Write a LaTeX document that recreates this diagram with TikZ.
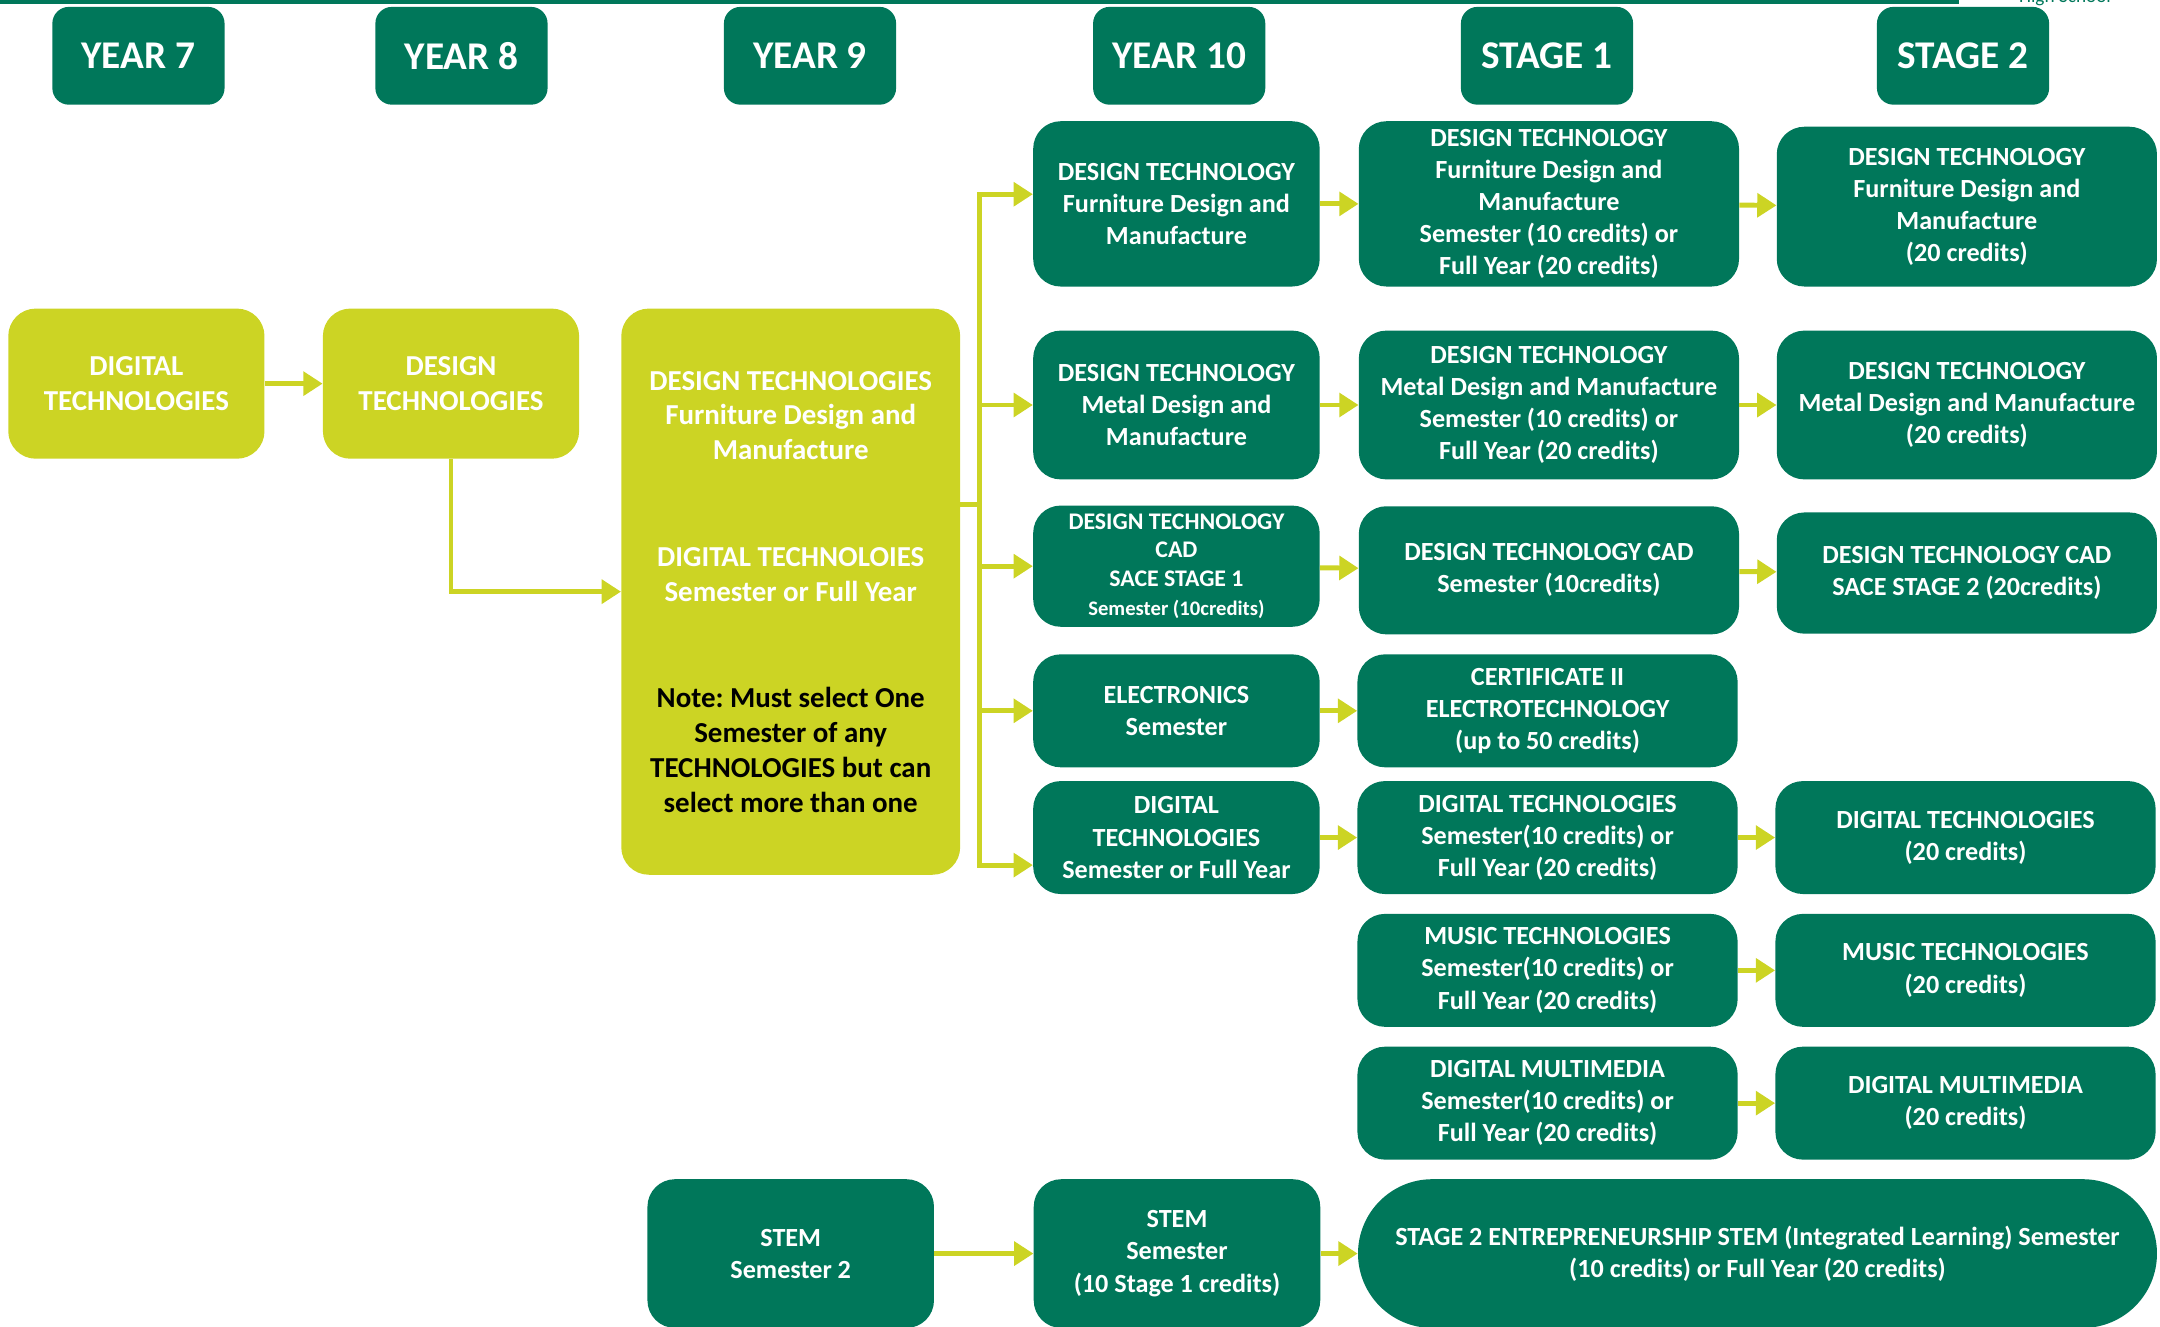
\documentclass[tikz,border=0pt]{standalone}
\usepackage{fontspec}
\setmainfont{Carlito}
\usetikzlibrary{positioning, arrows.meta}
\definecolor{dkgreen}{HTML}{00775A}
\definecolor{ltgreen}{HTML}{CCD424}
\frenchspacing

\begin{document}
\begin{tikzpicture} [x=1pt, y=-1pt,
            node distance = 28pt,
            head/.style = {fill=dkgreen, rounded corners=12pt, text=white,
                font=\bfseries\fontsize{28.5}{34}\selectfont,
                minimum width=125pt, minimum height=71pt, inner sep=0pt},
            course/.style = {fill=dkgreen, rounded corners=20pt, text=white,
                align=center, inner sep=0pt,
                font=\bfseries\fontsize{19}{23.3}\selectfont},
            wide/.style = {course, minimum width=276pt},
            narrow/.style = {course, minimum width=208pt},
            core/.style = {fill=ltgreen, rounded corners=20pt, text=white,
                align=center, inner sep=0pt,
                font=\bfseries\fontsize{21}{25.3}\selectfont},
            trunk/.style = {color=ltgreen, line width=3.6pt},
            link/.style = {trunk, -{Triangle[length=14pt, width=17pt]}}]

            \useasboundingbox (0,0) rectangle (1568,963);
            \clip (0,0) rectangle (1568,963);

            % Top rule
            \draw [dkgreen, line width=3pt] (0,1.5) -- (1422,1.5);
            \node (school) [anchor=base, text=dkgreen,
                font=\fontsize{14}{16}\selectfont] at (1499,2) {High School};

            % Column headers
            \node (y7h)  [head] at (100.5,40.5) {YEAR 7};
            \node (y8h)  [head] at (335,40.5)   {YEAR 8};
            \node (y9h)  [head] at (588,40.5)   {YEAR 9};
            \node (y10h) [head] at (856,40.5)   {YEAR 10};
            \node (s1h)  [head] at (1123,40.5)  {STAGE 1};
            \node (s2h)  [head] at (1425,40.5)  {STAGE 2};

            % Years 7 to 9
            \node (dt7) [core,
                minimum width=186pt, minimum height=109pt] at (99,278.5)
                {DIGITAL\\TECHNOLOGIES};
            \node (ds8) [core,
                minimum width=186pt, minimum height=109pt,
                right = 42pt of dt7] {DESIGN\\TECHNOLOGIES};
            \node (opt9) [core,
                minimum width=246pt, minimum height=411pt] at (574,429.5)
                {DESIGN TECHNOLOGIES\\Furniture Design and\\Manufacture\\[52pt]
                 DIGITAL TECHNOLOIES\\Semester or Full Year\\[52pt]
                 \textcolor{black}{Note: Must select One}\\
                 \textcolor{black}{Semester of any}\\
                 \textcolor{black}{TECHNOLOGIES but can}\\
                 \textcolor{black}{select more than one}};
            \node (stem9) [narrow, minimum height=108pt] at (574,910)
                {STEM\\Semester 2};

            % Year 10
            \node (y10fdm) [narrow, minimum height=120pt] at (854,148)
                {DESIGN TECHNOLOGY\\Furniture Design and\\Manufacture};
            \node (y10mdm) [narrow, minimum height=108pt] at (854,294)
                {DESIGN TECHNOLOGY\\Metal Design and\\Manufacture};
            \node (y10cad) [narrow, minimum height=88pt,
                font=\bfseries\fontsize{17.3}{21}\selectfont] at (854,411)
                {DESIGN TECHNOLOGY\\CAD\\SACE STAGE 1\\
                 \fontsize{15}{21}\selectfont Semester (10credits)};
            \node (y10elec) [narrow, minimum height=82pt] at (854,516)
                {ELECTRONICS\\Semester};
            \node (y10dt) [narrow, minimum height=82pt] at (854,608)
                {DIGITAL\\TECHNOLOGIES\\Semester or Full Year};
            \node (stem10) [narrow, minimum height=108pt,
                right = 72pt of stem9] {STEM\\Semester\\(10 Stage 1 credits)};

            % Stage 1
            \node (s1fdm) [wide, minimum height=120pt, right = of y10fdm]
                {DESIGN TECHNOLOGY\\Furniture Design and\\Manufacture\\
                 Semester (10 credits) or\\Full Year (20 credits)};
            \node (s1mdm) [wide, minimum height=108pt, right = of y10mdm]
                {DESIGN TECHNOLOGY\\Metal Design and Manufacture\\
                 Semester (10 credits) or\\Full Year (20 credits)};
            \node (s1cad) [wide, minimum height=93pt, right = of y10cad,
                yshift=-3pt]
                {DESIGN TECHNOLOGY CAD\\Semester (10credits)};
            \node (s1elec) [wide, minimum height=82pt, right = 27pt of y10elec]
                {CERTIFICATE II\\ELECTROTECHNOLOGY\\(up to 50 credits)};
            \node (s1dt) [wide, minimum height=82pt, right = 27pt of y10dt]
                {DIGITAL TECHNOLOGIES\\Semester(10 credits) or\\Full Year (20 credits)};
            \node (s1mt) [wide, minimum height=82pt, below = 14pt of s1dt]
                {MUSIC TECHNOLOGIES\\Semester(10 credits) or\\Full Year (20 credits)};
            \node (s1dm) [wide, minimum height=82pt, below = 14pt of s1mt]
                {DIGITAL MULTIMEDIA\\Semester(10 credits) or\\Full Year (20 credits)};
            \node (ent) [course, minimum width=580pt, minimum height=108pt,
                rounded corners=54pt, right = 27pt of stem10]
                {STAGE 2 ENTREPRENEURSHIP STEM (Integrated Learning) Semester\\
                 (10 credits) or Full Year (20 credits)};

            % Stage 2
            \node (s2fdm) [wide, minimum height=116pt, right = 27pt of s1fdm,
                yshift=-2pt]
                {DESIGN TECHNOLOGY\\Furniture Design and\\Manufacture\\(20 credits)};
            \node (s2mdm) [wide, minimum height=108pt, right = 27pt of s1mdm]
                {DESIGN TECHNOLOGY\\Metal Design and Manufacture\\(20 credits)};
            \node (s2cad) [wide, minimum height=88pt, right = 27pt of s1cad,
                yshift=-2pt]
                {DESIGN TECHNOLOGY CAD\\SACE STAGE 2 (20credits)};
            \node (s2dt) [wide, minimum height=82pt, right = 27pt of s1dt]
                {DIGITAL TECHNOLOGIES\\(20 credits)};
            \node (s2mt) [wide, minimum height=82pt, right = 27pt of s1mt]
                {MUSIC TECHNOLOGIES\\(20 credits)};
            \node (s2dm) [wide, minimum height=82pt, right = 27pt of s1dm]
                {DIGITAL MULTIMEDIA\\(20 credits)};

            % Year 9 fork
            \coordinate (fork) at (711,366);
            \draw [trunk] (opt9.east |- fork) -- (fork);
            \draw [link] (fork) |- ([yshift=7pt]y10fdm.west);
            \draw [link] (fork) |- (y10mdm.west);
            \draw [link] (fork) |- (y10cad.west);
            \draw [link] (fork) |- (y10elec.west);
            \draw [link] (fork) |- ([yshift=-20pt]y10dt.west);

            % Arrows
            \draw [link] (dt7) -- (ds8);
            \draw [link] (ds8) |- (opt9);
            \path [link]
                (y10fdm)  edge (s1fdm)
                (y10mdm)  edge (s1mdm)
                (y10cad)  edge (s1cad)
                (y10elec) edge (s1elec)
                (y10dt)   edge (s1dt)
                (stem9)   edge (stem10)
                (stem10)  edge (ent)

                (s1fdm) edge (s2fdm)
                (s1mdm) edge (s2mdm)
                (s1cad) edge (s2cad)
                (s1dt)  edge (s2dt)
                (s1mt)  edge (s2mt)
                (s1dm)  edge (s2dm);
        \end{tikzpicture}
\end{document}
